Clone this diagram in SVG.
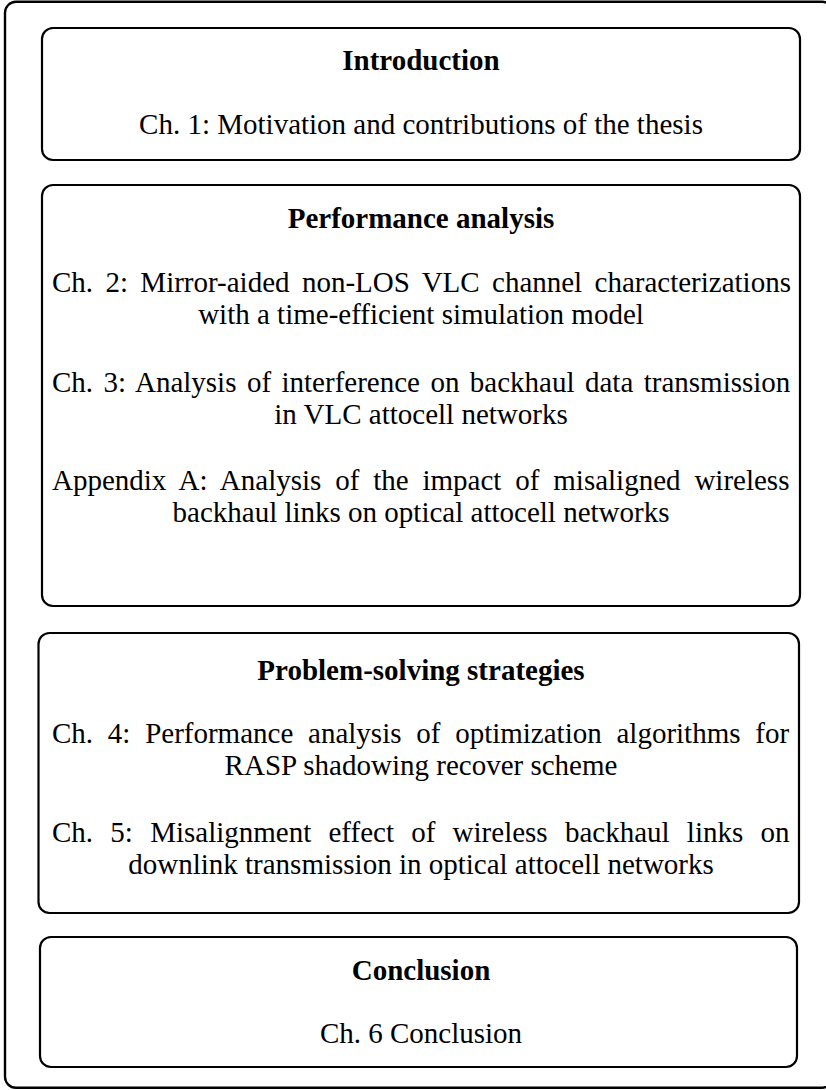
<svg xmlns="http://www.w3.org/2000/svg" width="826" height="1090" viewBox="0 0 826 1090">
<style>
.box{fill:#fff;stroke:#000;stroke-width:2.2}
.t{font-family:"Liberation Serif","Times New Roman",serif;font-size:29px;fill:#000}
.b{font-weight:bold;text-anchor:middle}
.c{text-anchor:middle}
</style>
<rect width="826" height="1090" fill="#fff"/>
<rect id="frame" x="5" y="1.8" width="828" height="1086" rx="11" fill="none" stroke="#000" stroke-width="2.4"/>
<g id="connectors"></g>
<g id="intro">
<rect class="box" x="42" y="28" width="758" height="132" rx="11"/>
<text class="t b" x="421" y="70">Introduction</text>
<text class="t c" x="421" y="134">Ch. 1: Motivation and contributions of the thesis</text>
</g>
<g id="performance">
<rect class="box" x="42" y="185" width="758" height="421" rx="11"/>
<text class="t b" x="421" y="228">Performance analysis</text>
<text class="t" x="52" y="292" word-spacing="5.1">Ch. 2: Mirror-aided non-LOS VLC channel characterizations</text>
<text class="t c" x="421" y="324">with a time-efficient simulation model</text>
<text class="t" x="52" y="392" word-spacing="3.2">Ch. 3: Analysis of interference on backhaul data transmission</text>
<text class="t c" x="421" y="424">in VLC attocell networks</text>
<text class="t" x="52" y="490" word-spacing="6.6">Appendix A: Analysis of the impact of misaligned wireless</text>
<text class="t c" x="421" y="522">backhaul links on optical attocell networks</text>
</g>
<g id="strategies">
<rect class="box" x="38.5" y="633" width="760.5" height="280" rx="11"/>
<text class="t b" x="421" y="680">Problem-solving strategies</text>
<text class="t" x="52" y="743" word-spacing="7.5">Ch. 4: Performance analysis of optimization algorithms for</text>
<text class="t c" x="421" y="775">RASP shadowing recover scheme</text>
<text class="t" x="52" y="842" word-spacing="10">Ch. 5: Misalignment effect of wireless backhaul links on</text>
<text class="t c" x="421" y="874">downlink transmission in optical attocell networks</text>
</g>
<g id="conclusion">
<rect class="box" x="40" y="937" width="757" height="130" rx="11"/>
<text class="t b" x="421" y="980">Conclusion</text>
<text class="t c" x="421" y="1043">Ch. 6 Conclusion</text>
</g>
</svg>
